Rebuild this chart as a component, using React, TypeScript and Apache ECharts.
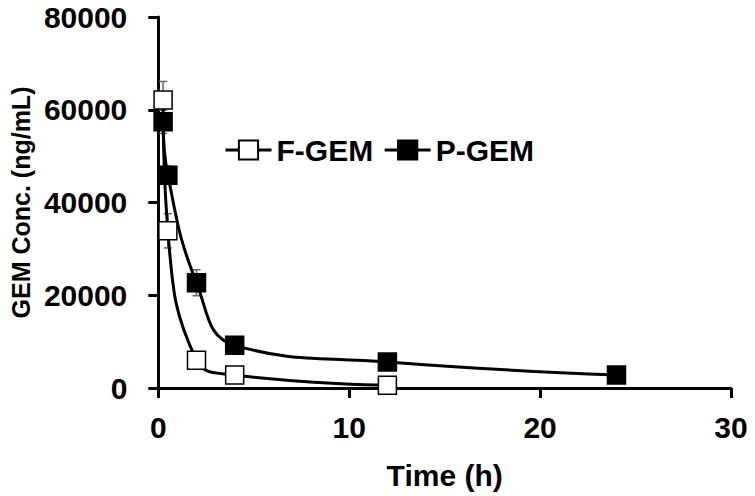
import React, { useEffect, useRef } from "react";
import * as echarts from "echarts";

const timeF = [0.25, 0.5, 2, 4, 12];
const concF = [62100, 33900, 6000, 2800, 600];
const errF = [4000, 3700, 900, 500, 300];

const timeP = [0.25, 0.5, 2, 4, 12, 24];
const concP = [57400, 45900, 22700, 9200, 5600, 2800];
const errP = [2500, 2000, 2800, 1500, 900, 600];

const xTicks = [0, 10, 20, 30];
const yTicks = [0, 20000, 40000, 60000, 80000];

const FONT = "Liberation Sans, Arial, sans-serif";

function errorRender(params: any, api: any) {
  const x = api.value(0);
  const y = api.value(1);
  const e = api.value(2);
  const top = api.coord([x, y + e]);
  const bot = api.coord([x, y - e]);
  const cap = 4;
  const style = { stroke: "#666", lineWidth: 1.5 };
  return {
    type: "group",
    children: [
      { type: "line", shape: { x1: top[0], y1: top[1], x2: bot[0], y2: bot[1] }, style },
      { type: "line", shape: { x1: top[0] - cap, y1: top[1], x2: top[0] + cap, y2: top[1] }, style },
      { type: "line", shape: { x1: bot[0] - cap, y1: bot[1], x2: bot[0] + cap, y2: bot[1] }, style },
    ],
  };
}

export default function App() {
  const ref = useRef<HTMLDivElement>(null);
  useEffect(() => {
    if (!ref.current) return;
    const chart = echarts.init(ref.current, null, { renderer: "svg" });
    const fData = timeF.map((t, i) => [t, concF[i]]);
    const pData = timeP.map((t, i) => [t, concP[i]]);
    const fErr = timeF.map((t, i) => [t, concF[i], errF[i]]);
    const pErr = timeP.map((t, i) => [t, concP[i], errP[i]]);
    chart.setOption({
      animation: false,
      backgroundColor: "#fff",
      grid: { left: 153, right: 24, top: 17, bottom: 108, containLabel: false },
      legend: {
        data: ["F-GEM", "P-GEM"],
        left: 219,
        top: 130,
        itemWidth: 46,
        itemHeight: 24,
        itemGap: 10,
        lineStyle: { width: 3, color: "#000" },
        textStyle: { fontFamily: FONT, fontWeight: "bold", fontSize: 30, color: "#000" },
      },
      xAxis: {
        type: "value",
        min: 0,
        max: 30,
        interval: 10,
        name: "Time (h)",
        nameLocation: "middle",
        nameGap: 72,
        nameTextStyle: { fontFamily: FONT, fontWeight: "bold", fontSize: 30, color: "#000" },
        axisLine: { lineStyle: { color: "#000", width: 3 } },
        axisTick: { show: true, inside: false, length: 10, lineStyle: { color: "#000", width: 3 } },
        axisLabel: { margin: 24, fontFamily: FONT, fontWeight: "bold", fontSize: 30, color: "#000",
          formatter: (v: number) => (xTicks.includes(v) ? String(v) : "") },
        splitLine: { show: false },
      },
      yAxis: {
        type: "value",
        min: 0,
        max: 80000,
        interval: 20000,
        name: "GEM Conc. (ng/mL)",
        nameLocation: "middle",
        nameRotate: 90,
        nameGap: 122,
        nameTextStyle: { fontFamily: FONT, fontWeight: "bold", fontSize: 25, color: "#000" },
        axisLine: { show: true, lineStyle: { color: "#000", width: 3 } },
        axisTick: { show: true, inside: false, length: 10, lineStyle: { color: "#000", width: 3 } },
        axisLabel: { margin: 31, fontFamily: FONT, fontWeight: "bold", fontSize: 30, color: "#000",
          formatter: (v: number) => (yTicks.includes(v) ? String(v) : "") },
        splitLine: { show: false },
      },
      series: [
        {
          name: "F-GEM err",
          type: "custom",
          renderItem: errorRender,
          data: fErr,
          z: 1,
          silent: true,
        },
        {
          name: "P-GEM err",
          type: "custom",
          renderItem: errorRender,
          data: pErr,
          z: 1,
          silent: true,
        },
        {
          name: "F-GEM",
          type: "line",
          data: fData,
          smooth: 0.45,
          symbol: "rect",
          symbolSize: 18,
          lineStyle: { color: "#000", width: 3 },
          itemStyle: { color: "#fff", borderColor: "#000", borderWidth: 1.5 },
          z: 3,
        },
        {
          name: "P-GEM",
          type: "line",
          data: pData,
          smooth: 0.45,
          symbol: "rect",
          symbolSize: 18,
          lineStyle: { color: "#000", width: 3 },
          itemStyle: { color: "#000", borderColor: "#000", borderWidth: 1.5 },
          z: 3,
        },
      ],
    });
    return () => chart.dispose();
  }, []);
  return <div ref={ref} style={{ width: 755, height: 496, position: "absolute", left: 0, top: 0 }} />;
}
